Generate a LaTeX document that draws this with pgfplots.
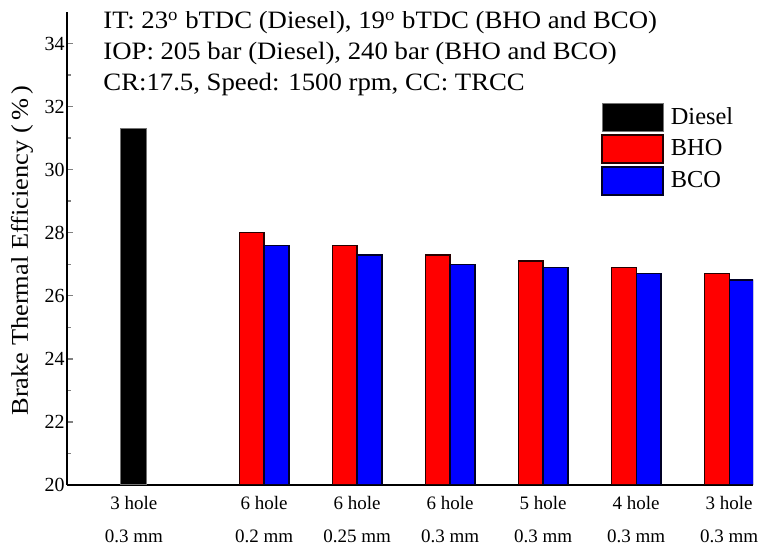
\documentclass[border=0pt]{standalone}
\usepackage{fontspec}
\setmainfont{Liberation Serif}
\newfontfamily\widefont[FakeStretch=1.07]{Liberation Serif}
\newfontfamily\labelfont[FakeStretch=1.1]{Liberation Serif}
\usepackage{pgfplots}
\pgfplotsset{compat=1.18}

% Brake thermal efficiency for each injector configuration
% x: bar centre (axis units), y: efficiency in %
\pgfplotstableread{
x      y
0      31.3
}\diesel
\pgfplotstableread{
x      y
1.266  28.0
2.266  27.6
3.266  27.3
4.266  27.1
5.266  26.9
6.266  26.7
}\bho
\pgfplotstableread{
x      y
1.534  27.6
2.534  27.3
3.534  27.0
4.534  26.9
5.534  26.7
6.534  26.5
}\bco

\begin{document}
\begin{tikzpicture}
\useasboundingbox (-33.5pt,-29.5pt) rectangle (348pt,242.5pt);
\begin{axis}[
  scale only axis,
  width=343pt, height=236.5pt,
  at={(0,0)}, anchor=south west,
  xmin=-0.72, xmax=6.656,
  ymin=20, ymax=35,
  axis x line*=bottom, axis y line*=left,
  axis line style={line width=0.9pt},
  ytick={20,22,...,34},
  minor ytick={21,23,...,33},
  tick align=inside,
  major tick length=3pt, minor tick length=2pt,
  ytick style={line width=0.7pt},
  xtick={0,1.4,2.4,3.4,4.4,5.4,6.4},
  xticklabels={{3 hole\\0.3 mm},{6 hole\\0.2 mm},{6 hole\\0.25 mm},{6 hole\\0.3 mm},{5 hole\\0.3 mm},{4 hole\\0.3 mm},{3 hole\\0.3 mm}},
  xtick style={draw=none},
  xticklabel style={align=center, font=\fontsize{9.5}{16.5}\selectfont, yshift=-2pt},
  yticklabel style={font=\fontsize{10}{12}\selectfont, inner sep=1pt},
  /pgf/number format/assume math mode=true,
  ylabel={Brake Thermal Efficiency (\,\%\,)},
  ylabel style={at={([xshift=-22.5pt]axis description cs:0,0.495)}, anchor=center, font=\labelfont\fontsize{12}{14}\selectfont},
  legend image code/.code={\draw[#1] (0pt,-7pt) rectangle (30.5pt,7pt);},
  legend style={at={(rel axis cs:0.7785,0.809)}, anchor=north west, draw=none, fill=none,
    inner sep=0pt, row sep=1.25pt, font=\fontsize{12.2}{14}\selectfont,
    nodes={inner sep=2pt},
    /tikz/every odd column/.append style={column sep=1.5pt}},
  legend cell align=left,
]
\addplot[ybar, bar width=0.28, bar shift=0pt, fill=black, draw=black!55, line width=0.5pt] table[x=x,y=y]{\diesel};
\addplot[ybar, bar width=0.268, bar shift=0pt, fill=red, draw=black!85!red, line width=0.7pt] table[x=x,y=y]{\bho};
\addplot[ybar, bar width=0.268, bar shift=0pt, fill=blue, draw=black!85!blue, line width=0.7pt] table[x=x,y=y]{\bco};
\legend{Diesel, BHO, BCO}
\node[anchor=base west, align=left, font=\widefont\fontsize{12.5}{15.5}\selectfont, inner sep=0pt]
  at (rel axis cs:0.0525,0.833) {IT: 23\textsuperscript{o} bTDC (Diesel), 19\textsuperscript{o} bTDC (BHO and BCO)\\IOP: 205 bar (Diesel), 240 bar (BHO and BCO)\\CR:17.5, Speed: 1500 rpm, CC: TRCC};
\end{axis}
\end{tikzpicture}
\end{document}
